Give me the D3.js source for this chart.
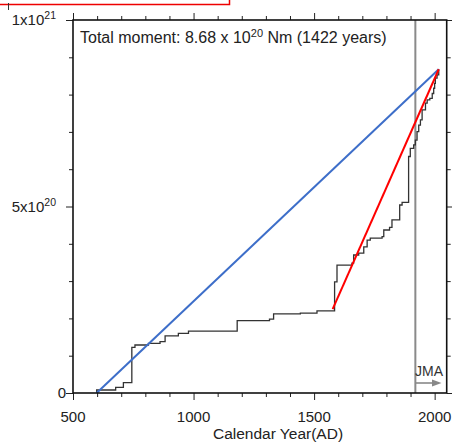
<!DOCTYPE html>
<html><head><meta charset="utf-8">
<script src="https://cdn.jsdelivr.net/npm/d3@7"></script>
<style>body{margin:0;background:#fff}svg{display:block}text{font-family:"Liberation Sans",Arial,Helvetica,sans-serif}</style>
</head><body>
<script>
// Cumulative moment staircase (year, cumulative moment after event, x1e20 Nm)
const stepYears  = [598,677,709,744,757,813,861,882,937,979,1181,1315,1332,1443,1512,1585,1595,1657,1664,1685,1706,1720,1733,1782,1789,1813,1823,1855,1865,1892,1899,1913,1920,1927,1934,1941,1948,1962,1969,1980,1990,1996,2000,2003,2010,2017];
const stepValues = [0.08,0.153,0.276,1.225,1.287,1.33,1.375,1.53,1.60,1.66,1.94,1.98,2.12,2.14,2.20,2.98,3.43,3.48,3.70,3.75,3.92,4.10,4.15,4.19,4.37,4.44,4.64,5.04,5.11,6.34,6.56,6.65,6.78,7.01,7.18,7.32,7.59,7.77,7.86,7.90,8.03,8.17,8.30,8.44,8.53,8.68];
const blueYears = [598, 2017];
const blueValues = [0, 8.68];
const redYears = [1577, 2017];
const redValues = [2.25, 8.68];
const jmaYear = 1920;
const xMajorTicks = [500,1000,1500,2000];
const xMinorTicks = [600,700,800,900,1100,1200,1300,1400,1600,1700,1800,1900];
const yMajorTicks = [0,5,10];
const yMinorTicks = [1,2,3,4,6,7,8,9];
const yTickLabels = [["0",null],["5x10","20"],["1x10","21"]];

const W=452,H=445;
const svg=d3.select("body").append("svg").attr("width",W).attr("height",H);
const L=73,R=446.7,T=20,B=393;
const x=d3.scaleLinear().domain([500,2050]).range([L,R]);
const y=d3.scaleLinear().domain([0,10]).range([B,T]);

// stray marks at top
svg.append("path").attr("d","M0,4.5H229.5V0").attr("fill","none").attr("stroke","#e00").attr("stroke-width",1.5);
svg.append("line").attr("x1",8.5).attr("x2",8.5).attr("y1",3).attr("y2",10).attr("stroke","#333").attr("stroke-width",1);

// JMA line
svg.append("line").attr("x1",x(jmaYear)).attr("x2",x(jmaYear)).attr("y1",T).attr("y2",B).attr("stroke","#8a8a8a").attr("stroke-width",2);

// staircase
const pts=[[stepYears[0],0]];
stepYears.forEach((yr,i)=>{pts.push([yr, i===0?0:stepValues[i-1]]);pts.push([yr,stepValues[i]]);});
const line=d3.line().x(d=>x(d[0])).y(d=>y(d[1]));
svg.append("path").attr("d",line(pts)).attr("fill","none").attr("stroke","#333").attr("stroke-width",1.3);

// blue & red lines
svg.append("path").attr("d",line(blueYears.map((d,i)=>[d,blueValues[i]]))).attr("fill","none").attr("stroke","#3d6ec9").attr("stroke-width",2);
svg.append("path").attr("d",line(redYears.map((d,i)=>[d,redValues[i]]))).attr("fill","none").attr("stroke","#ff0000").attr("stroke-width",2);

// JMA arrow
const ay=383;
svg.append("line").attr("x1",x(jmaYear)).attr("x2",436).attr("y1",ay).attr("y2",ay).attr("stroke","#888").attr("stroke-width",1.6);
svg.append("path").attr("d",`M432,${ay-3.5}L441.5,${ay}L432,${ay+3.5}Z`).attr("fill","#888");
svg.append("text").attr("x",429).attr("y",376).attr("text-anchor","middle").attr("font-size",14).attr("fill","#333").text("JMA");

// axes (ticks outward)
function ax(gen,tr,vals,size){svg.append("g").attr("transform",tr).call(gen.tickValues(vals).tickSize(size).tickFormat("")).call(g=>{g.select(".domain").remove();g.selectAll("line").attr("stroke","#222").attr("stroke-width",1);});}
ax(d3.axisBottom(x),`translate(0,${B})`,xMajorTicks,7);
ax(d3.axisBottom(x),`translate(0,${B})`,xMinorTicks,4);
ax(d3.axisTop(x),`translate(0,${T})`,xMajorTicks,7);
ax(d3.axisTop(x),`translate(0,${T})`,xMinorTicks,4);
ax(d3.axisLeft(y),`translate(${L},0)`,yMajorTicks,7);
ax(d3.axisLeft(y),`translate(${L},0)`,yMinorTicks,4);
ax(d3.axisRight(y),`translate(${R},0)`,yMajorTicks,7);
ax(d3.axisRight(y),`translate(${R},0)`,yMinorTicks,4);

// frame
svg.append("rect").attr("x",L).attr("y",T).attr("width",R-L).attr("height",B-T).attr("fill","none").attr("stroke","#111").attr("stroke-width",1.6);

// x labels
xMajorTicks.forEach(v=>{svg.append("text").attr("x",x(v)).attr("y",422).attr("text-anchor","middle").attr("font-size",15).attr("fill","#222").text(v);});
svg.append("text").attr("x",278).attr("y",439).attr("text-anchor","middle").attr("font-size",15.5).attr("fill","#222").text("Calendar Year(AD)");

// y labels
yMajorTicks.forEach((v,i)=>{
  const [base,sup]=yTickLabels[i];
  const t=svg.append("text").attr("y",y(v)+5).attr("text-anchor","end").attr("font-size",15).attr("fill","#222");
  if(sup){t.attr("x",56);t.append("tspan").text(base);t.append("tspan").attr("dy",-6).attr("font-size",10.5).text(sup);}
  else{t.attr("x",66).text(base);}
});
// title
const tt=svg.append("text").attr("x",80).attr("y",43).attr("font-size",16).attr("fill","#222");
tt.append("tspan").text("Total moment: 8.68 x 10");
tt.append("tspan").attr("dy",-6).attr("font-size",11).text("20");
tt.append("tspan").attr("dy",6).text(" Nm (1422 years)");
</script>
</body></html>
